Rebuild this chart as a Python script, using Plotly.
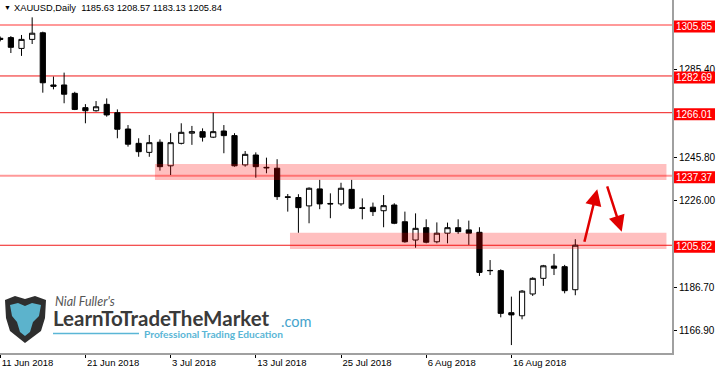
import plotly.graph_objects as go

# ---------------- data ----------------
dates = [
    "2018-06-11", "2018-06-12", "2018-06-13", "2018-06-14", "2018-06-15",
    "2018-06-18", "2018-06-19", "2018-06-20", "2018-06-21", "2018-06-22",
    "2018-06-25", "2018-06-26", "2018-06-27", "2018-06-28", "2018-06-29",
    "2018-07-02", "2018-07-03", "2018-07-04", "2018-07-05", "2018-07-06",
    "2018-07-09", "2018-07-10", "2018-07-11", "2018-07-12", "2018-07-13",
    "2018-07-16", "2018-07-17", "2018-07-18", "2018-07-19", "2018-07-20",
    "2018-07-23", "2018-07-24", "2018-07-25", "2018-07-26", "2018-07-27",
    "2018-07-30", "2018-07-31", "2018-08-01", "2018-08-02", "2018-08-03",
    "2018-08-06", "2018-08-07", "2018-08-08", "2018-08-09", "2018-08-10",
    "2018-08-13", "2018-08-14", "2018-08-15", "2018-08-16", "2018-08-17",
    "2018-08-20", "2018-08-21", "2018-08-22", "2018-08-23", "2018-08-24",
]
opens = [1299.8, 1300.1, 1295.2, 1299.3, 1302.3, 1278.6, 1278.6, 1274.8, 1268.3, 1266.9,
         1269.8, 1266.0, 1258.6, 1252.1, 1248.0, 1252.6, 1241.9, 1252.1, 1256.7, 1257.4,
         1254.9, 1257.7, 1255.6, 1242.3, 1246.8, 1241.2, 1240.8, 1227.8, 1227.5, 1223.7,
         1231.4, 1224.8, 1224.6, 1231.2, 1222.8, 1223.1, 1221.5, 1224.1, 1216.5, 1208.2,
         1213.8, 1207.4, 1211.3, 1213.8, 1212.8, 1211.7, 1194.4, 1194.3, 1175.2, 1173.8,
         1183.7, 1190.8, 1196.4, 1196.1, 1185.63]
highs = [1300.6, 1300.8, 1301.3, 1309.3, 1302.8, 1282.4, 1284.2, 1275.5, 1269.9, 1271.3,
         1272.5, 1267.5, 1260.4, 1254.4, 1255.9, 1253.9, 1256.7, 1261.2, 1260.0, 1258.9,
         1266.0, 1260.4, 1256.7, 1248.6, 1248.0, 1245.6, 1244.9, 1229.1, 1229.0, 1232.1,
         1235.5, 1229.4, 1234.2, 1235.5, 1227.1, 1225.2, 1228.6, 1224.9, 1221.1, 1220.3,
         1217.6, 1216.2, 1216.1, 1217.6, 1217.0, 1214.0, 1199.1, 1194.9, 1182.5, 1185.5,
         1191.3, 1196.9, 1201.9, 1196.9, 1208.57]
lows = [1298.4, 1293.1, 1291.8, 1297.2, 1275.1, 1276.6, 1270.3, 1267.2, 1261.2, 1266.5,
        1264.2, 1254.4, 1250.6, 1246.0, 1246.0, 1239.7, 1237.7, 1251.6, 1251.4, 1252.9,
        1254.5, 1247.6, 1241.5, 1241.5, 1236.5, 1238.5, 1226.4, 1221.1, 1211.5, 1215.8,
        1222.2, 1218.1, 1223.7, 1222.2, 1217.6, 1219.1, 1214.0, 1215.4, 1207.0, 1204.7,
        1206.7, 1206.7, 1206.7, 1211.0, 1206.0, 1191.9, 1192.3, 1173.1, 1160.5, 1172.2,
        1182.8, 1187.4, 1192.3, 1184.0, 1183.13]
closes = [1299.3, 1295.7, 1299.3, 1302.1, 1279.6, 1278.0, 1274.4, 1267.5, 1266.9, 1268.7,
          1265.0, 1258.5, 1251.7, 1248.3, 1252.4, 1241.5, 1252.4, 1257.1, 1257.4, 1254.9,
          1257.4, 1255.6, 1241.9, 1247.1, 1241.5, 1241.0, 1227.9, 1227.6, 1222.9, 1231.7,
          1224.6, 1224.6, 1231.7, 1222.6, 1222.6, 1221.1, 1223.8, 1215.8, 1207.4, 1213.5,
          1207.2, 1211.3, 1213.8, 1212.0, 1211.3, 1193.5, 1194.3, 1174.9, 1174.2, 1185.0,
          1190.8, 1196.5, 1195.4, 1185.2, 1205.84]

tick_dates = ["2018-06-11", "2018-06-21", "2018-07-03", "2018-07-13",
              "2018-07-25", "2018-08-06", "2018-08-16"]
tick_labels = ["11 Jun 2018", "21 Jun 2018", "3 Jul 2018", "13 Jul 2018",
               "25 Jul 2018", "6 Aug 2018", "16 Aug 2018"]
y_ticks = [1166.90, 1186.70, 1226.00, 1245.80, 1285.40]

level_prices = [1305.85, 1282.69, 1266.01, 1237.37, 1205.82]
level_soft = [True, False, False, True, False]
zone_low = [1235.46, 1204.13]
zone_high = [1242.70, 1211.53]

title_text = "XAUUSD,Daily\u00a0 1185.63 1208.57 1183.13 1205.84"

# ---------------- layout helpers ----------------
W, H = 672, 353          # plot area in pixels
FONT = "Liberation Sans"


def px(x):
    return x / W


def py(y):
    return 1 - y / H


xi = list(range(len(dates)))
x_range = [-0.02, 63.08]

fig = go.Figure()
fig.add_trace(go.Candlestick(
    x=xi, open=opens, high=highs, low=lows, close=closes,
    increasing=dict(line=dict(color="black", width=1), fillcolor="white"),
    decreasing=dict(line=dict(color="black", width=1), fillcolor="black"),
    whiskerwidth=0, hoverinfo="skip", showlegend=False,
))

shapes = []
# horizontal levels
for p, soft in zip(level_prices, level_soft):
    shapes.append(dict(
        type="line", xref="paper", yref="y", x0=0, x1=1, y0=p, y1=p,
        line=dict(color="rgba(255,0,0,0.4)" if soft else "#f01818",
                  width=2 if soft else 1),
        layer="below"))
# zones
zone_x = [(14.53, 62.56), (27.21, 62.56)]
for (x0, x1), lo, hi in zip(zone_x, zone_low, zone_high):
    shapes.append(dict(
        type="rect", xref="x", yref="y", x0=x0, x1=x1, y0=lo, y1=hi,
        fillcolor="rgba(255,0,0,0.25)", line=dict(width=0), layer="above"))
# price label boxes on the right axis
for p in level_prices:
    shapes.append(dict(
        type="rect", xref="paper", yref="y", ysizemode="pixel", yanchor=p,
        x0=px(674), x1=px(715), y0=-7.5, y1=4.5,
        fillcolor="#ff0000", line=dict(width=0), layer="above"))


# logo icon (shield with bull)
def path(points):
    return "M " + " L ".join(f"{px(a):.5f},{py(b):.5f}" for a, b in points) + " Z"


shield = [(5, 300), (15, 296), (25, 299), (35, 296), (46, 300), (45, 318),
          (41, 331), (25, 343), (10, 331), (6, 318)]
face = [(10, 305), (18, 303), (25, 306), (32, 303), (41, 305), (39, 316),
        (33, 322), (30, 332), (25, 336), (20, 332), (17, 322), (12, 316)]
shapes.append(dict(type="path", xref="paper", yref="paper", path=path(shield),
                   fillcolor="#2e2e2e", line=dict(width=0), layer="above"))
shapes.append(dict(type="path", xref="paper", yref="paper", path=path(face),
                   fillcolor="#5cb3cc", line=dict(width=0), layer="above"))
shapes.append(dict(type="line", xref="paper", yref="paper",
                   x0=px(53), x1=px(139), y0=py(333.5), y1=py(333.5),
                   line=dict(color="#5ab6d6", width=1.5), layer="above"))

annotations = []
for p in level_prices:
    annotations.append(dict(
        xref="paper", yref="y", x=px(694.5), y=p, yshift=-1.5,
        text=f"{p:.2f}", showarrow=False, xanchor="center", yanchor="middle",
        font=dict(family=FONT, size=10, color="white")))

# title
annotations.append(dict(xref="paper", yref="paper", x=px(2), y=py(8),
                        text="\u25bc", showarrow=False, xanchor="left",
                        yanchor="middle", font=dict(family=FONT, size=7, color="black")))
annotations.append(dict(xref="paper", yref="paper", x=px(12), y=py(8),
                        text=title_text, showarrow=False, xanchor="left",
                        yanchor="middle", font=dict(family=FONT, size=9.3, color="black")))

# arrows
annotations.append(dict(xref="x", yref="y", axref="x", ayref="y",
                        x=56.06, y=1231.2, ax=54.82, ay=1206.7, text="",
                        showarrow=True, arrowhead=2, arrowsize=1.3, arrowwidth=2.5,
                        arrowcolor="#e00000", standoff=0, startstandoff=0))
annotations.append(dict(xref="x", yref="y", axref="x", ayref="y",
                        x=58.36, y=1212.0, ax=56.95, ay=1233.2, text="",
                        showarrow=True, arrowhead=2, arrowsize=1.3, arrowwidth=2.5,
                        arrowcolor="#e00000", standoff=0, startstandoff=0))

# logo text
annotations.append(dict(xref="paper", yref="paper", x=px(53), y=py(301),
                        text="Nial Fuller's", showarrow=False, xanchor="left",
                        yanchor="middle",
                        font=dict(family="Lato", size=12.5, color="#555555", style="italic")))
annotations.append(dict(xref="paper", yref="paper", x=px(51), y=py(317.5),
                        text="LearnToTradeTheMarket", showarrow=False, xanchor="left",
                        yanchor="middle",
                        font=dict(family="Lato", size=20.5, color="#3a3a3a", weight=700)))
annotations.append(dict(xref="paper", yref="paper", x=px(279), y=py(321.5),
                        text=".com", showarrow=False, xanchor="left", yanchor="middle",
                        font=dict(family="Lato", size=14.5, color="#45a3cc")))
annotations.append(dict(xref="paper", yref="paper", x=px(142), y=py(333.5),
                        text="Professional Trading Education", showarrow=False,
                        xanchor="left", yanchor="middle",
                        font=dict(family="Lato", size=10.2, color="#5ab6d6", weight=700)))

fig.update_layout(
    width=716, height=369,
    margin=dict(l=0, r=44, t=0, b=16, pad=0),
    paper_bgcolor="white", plot_bgcolor="white",
    shapes=shapes, annotations=annotations,
    showlegend=False,
    xaxis=dict(
        range=x_range, rangeslider=dict(visible=False),
        tickvals=[dates.index(d) for d in tick_dates], ticktext=tick_labels,
        ticks="outside", ticklen=3, tickcolor="black", tickwidth=1,
        ticklabelposition="outside right",
        tickfont=dict(family=FONT, size=9.5, color="black"),
        showgrid=False, zeroline=False,
        showline=True, linecolor="#a0a0a0", linewidth=2,
    ),
    yaxis=dict(
        range=[1156.9, 1317.18], side="right",
        tickvals=y_ticks, ticktext=[f"{v:.2f}" for v in y_ticks],
        ticks="outside", ticklen=3, tickcolor="black", tickwidth=1,
        tickfont=dict(family=FONT, size=10, color="black"),
        showgrid=False, zeroline=False,
        showline=True, linecolor="#a0a0a0", linewidth=2,
    ),
)

fig.write_html("out.html")
